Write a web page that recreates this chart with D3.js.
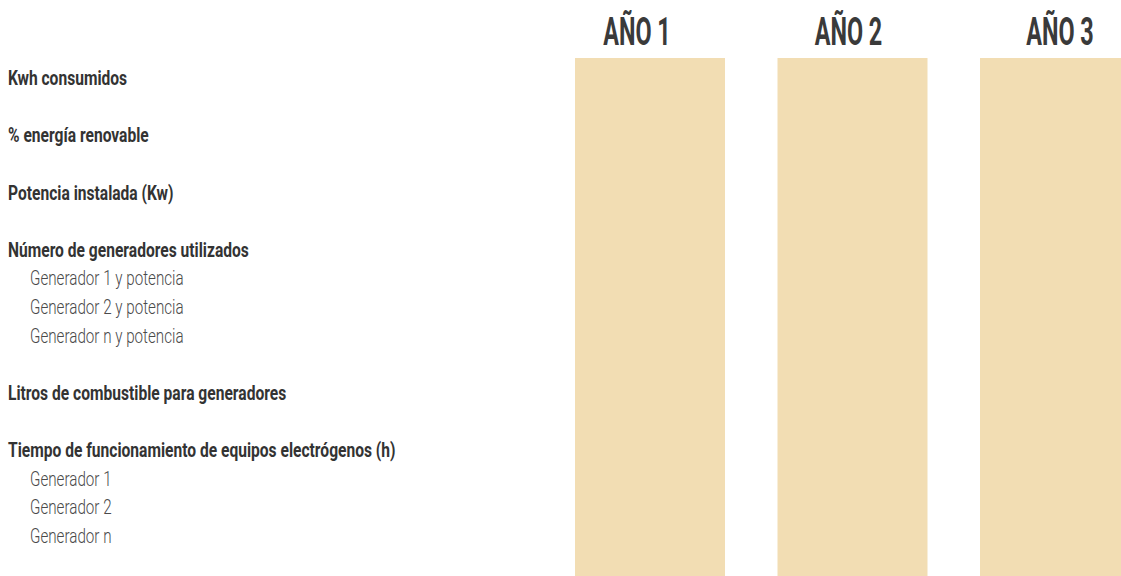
<!DOCTYPE html>
<html><head><meta charset="utf-8">
<script src="https://cdn.jsdelivr.net/npm/d3@7"></script>
<style>html,body{margin:0;padding:0;background:#fff;}svg{display:block;}</style>
</head><body>
<svg id="c" width="1121" height="576"></svg>
<script>
const years = ["AÑO 1", "AÑO 2", "AÑO 3"];
const rowLabels = [
  "Kwh consumidos",
  "% energía renovable",
  "Potencia instalada (Kw)",
  "Número de generadores utilizados",
  "Generador 1 y potencia",
  "Generador 2 y potencia",
  "Generador n y potencia",
  "Litros de combustible para generadores",
  "Tiempo de funcionamiento de equipos electrógenos (h)",
  "Generador 1",
  "Generador 2",
  "Generador n"
];
const rowLevels = [0,0,0,0,1,1,1,0,0,1,1,1];

const svg = d3.select("#c");
const W = 1121, H = 576;

const x = d3.scaleBand().domain(years).range([575, 1130]).paddingInner(52.5/202.5).paddingOuter(0);
const xHead = d3.scalePoint().domain(years).range([637, 1060]);

let li = -2;
const rows = rowLabels.map((t,i) => {
  li += rowLevels[i] === 0 ? 2 : 1;
  return {t, level: rowLevels[i], line: li};
});
const y = d3.scaleLinear().domain([0, 16]).range([85, 543]);

svg.selectAll("rect.col").data(years).join("rect")
  .attr("class","col")
  .attr("x", d => x(d)).attr("width", x.bandwidth())
  .attr("y", 58).attr("height", H - 58)
  .attr("fill", "#f2ddb3");

svg.selectAll("text.head").data(years).join("text")
  .attr("class","head")
  .attr("transform", d => `translate(${xHead(d)},45) scale(0.6,1)`)
  .attr("text-anchor","middle")
  .attr("font-family","Roboto, sans-serif")
  .attr("font-weight",700)
  .attr("font-size",39)
  .attr("fill","#3a3a3a")
  .text(d => d);

svg.selectAll("text.row").data(rows).join("text")
  .attr("class","row")
  .attr("transform", d => `translate(${d.level ? 30 : 8},${y(d.line)}) scale(${d.level ? 0.76 : 0.78},1)`)
  .attr("font-family","Roboto, sans-serif")
  .attr("font-weight", d => d.level ? 300 : 700)
  .attr("font-size", 20)
  .attr("fill", d => d.level ? "#4a4a4a" : "#333")
  .text(d => d.t);
</script>
</body></html>
